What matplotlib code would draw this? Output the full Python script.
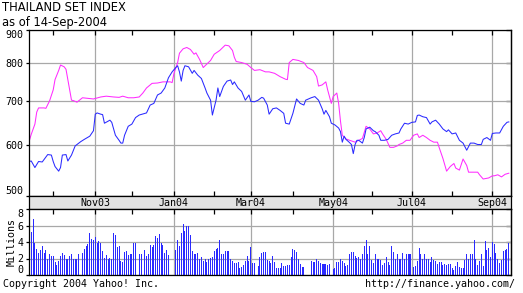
"""Thailand SET index, one-year chart with volume panel (Yahoo style)."""

import numpy as np
import matplotlib

matplotlib.use("Agg")
import matplotlib.pyplot as plt
from matplotlib.ticker import FixedLocator, FuncFormatter, NullLocator
from matplotlib.transforms import blended_transform_factory

START = "2003-09-12"  # first trading day shown

# SET index (blue)
set_dates = [
    "2003-09-12", "2003-09-15", "2003-09-17", "2003-09-19", "2003-09-23", "2003-09-25",
    "2003-09-26", "2003-09-30", "2003-10-01", "2003-10-02", "2003-10-06", "2003-10-07",
    "2003-10-08", "2003-10-10", "2003-10-13", "2003-10-15", "2003-10-17", "2003-10-22",
    "2003-10-24", "2003-10-29", "2003-10-31", "2003-11-03", "2003-11-04", "2003-11-06",
    "2003-11-07", "2003-11-10", "2003-11-13", "2003-11-14", "2003-11-18", "2003-11-20",
    "2003-11-21", "2003-11-24", "2003-11-25", "2003-11-27", "2003-12-01", "2003-12-03",
    "2003-12-05", "2003-12-11", "2003-12-15", "2003-12-17", "2003-12-19", "2003-12-23",
    "2003-12-25", "2003-12-29", "2003-12-31", "2004-01-02", "2004-01-05", "2004-01-06",
    "2004-01-07", "2004-01-08", "2004-01-09", "2004-01-13", "2004-01-15", "2004-01-16",
    "2004-01-20", "2004-01-22", "2004-01-26", "2004-01-27", "2004-01-29", "2004-01-30",
    "2004-02-03", "2004-02-04", "2004-02-05", "2004-02-09", "2004-02-11", "2004-02-13",
    "2004-02-16", "2004-02-17", "2004-02-19", "2004-02-23", "2004-02-25", "2004-02-27",
    "2004-03-01", "2004-03-03", "2004-03-05", "2004-03-09", "2004-03-10", "2004-03-12",
    "2004-03-15", "2004-03-17", "2004-03-19", "2004-03-23", "2004-03-25", "2004-03-26",
    "2004-03-30", "2004-04-01", "2004-04-05", "2004-04-07", "2004-04-09", "2004-04-12",
    "2004-04-15", "2004-04-19", "2004-04-21", "2004-04-23", "2004-04-26", "2004-04-27",
    "2004-04-29", "2004-04-30", "2004-05-04", "2004-05-06", "2004-05-07", "2004-05-10",
    "2004-05-11", "2004-05-12", "2004-05-14", "2004-05-17", "2004-05-18", "2004-05-19",
    "2004-05-20", "2004-05-21", "2004-05-25", "2004-05-26", "2004-05-27", "2004-05-31",
    "2004-06-02", "2004-06-03", "2004-06-07", "2004-06-08", "2004-06-10", "2004-06-14",
    "2004-06-16", "2004-06-18", "2004-06-22", "2004-06-23", "2004-06-25", "2004-06-29",
    "2004-07-01", "2004-07-05", "2004-07-06", "2004-07-07", "2004-07-09", "2004-07-13",
    "2004-07-15", "2004-07-16", "2004-07-20", "2004-07-22", "2004-07-26", "2004-07-28",
    "2004-07-29", "2004-08-02", "2004-08-04", "2004-08-06", "2004-08-10", "2004-08-12",
    "2004-08-16", "2004-08-18", "2004-08-20", "2004-08-24", "2004-08-25", "2004-08-27",
    "2004-08-31", "2004-09-01", "2004-09-03", "2004-09-07", "2004-09-09", "2004-09-13",
    "2004-09-14",
]
set_close = [
    565, 566, 553, 565, 564, 574, 579, 578, 565, 555,
    546, 553, 578, 579, 566, 578, 597, 606, 611, 618,
    630, 668, 671, 668, 667, 647, 654, 649, 620, 609,
    603, 603, 620, 640, 645, 660, 666, 671, 690, 694,
    715, 720, 733, 760, 776, 788, 793, 776, 751, 780,
    793, 790, 772, 780, 767, 758, 733, 720, 702, 666,
    702, 733, 711, 737, 751, 754, 742, 749, 733, 724,
    702, 715, 699, 698, 702, 709, 707, 690, 668, 681,
    683, 677, 670, 647, 645, 670, 705, 694, 690, 702,
    708, 711, 702, 681, 668, 677, 662, 647, 643, 636,
    628, 605, 618, 611, 604, 600, 581, 600, 609, 609,
    603, 615, 634, 638, 630, 628, 620, 609, 609, 611,
    620, 623, 625, 634, 647, 645, 649, 650, 665, 666,
    662, 660, 645, 650, 654, 645, 634, 628, 632, 623,
    625, 609, 603, 588, 603, 603, 600, 600, 611, 615,
    609, 624, 625, 625, 640, 649, 650,
]

# comparison series (magenta)
cmp_dates = [
    "2003-09-12", "2003-09-15", "2003-09-17", "2003-09-18", "2003-09-19", "2003-09-24",
    "2003-09-25", "2003-09-29", "2003-10-01", "2003-10-02", "2003-10-06", "2003-10-07",
    "2003-10-09", "2003-10-10", "2003-10-13", "2003-10-15", "2003-10-16", "2003-10-20",
    "2003-10-23", "2003-10-27", "2003-10-31", "2003-11-06", "2003-11-11", "2003-11-17",
    "2003-11-20", "2003-11-24", "2003-11-27", "2003-12-02", "2003-12-05", "2003-12-09",
    "2003-12-11", "2003-12-16", "2003-12-19", "2003-12-24", "2003-12-30", "2003-12-31",
    "2004-01-01", "2004-01-05", "2004-01-06", "2004-01-08", "2004-01-12", "2004-01-14",
    "2004-01-16", "2004-01-19", "2004-01-21", "2004-01-23", "2004-01-27", "2004-01-29",
    "2004-02-02", "2004-02-05", "2004-02-10", "2004-02-12", "2004-02-16", "2004-02-17",
    "2004-02-18", "2004-02-23", "2004-02-26", "2004-03-01", "2004-03-03", "2004-03-08",
    "2004-03-11", "2004-03-15", "2004-03-18", "2004-03-23", "2004-03-26", "2004-03-29",
    "2004-03-30", "2004-04-01", "2004-04-06", "2004-04-09", "2004-04-13", "2004-04-16",
    "2004-04-20", "2004-04-21", "2004-04-23", "2004-04-27", "2004-04-28", "2004-04-30",
    "2004-05-03", "2004-05-05", "2004-05-06", "2004-05-07", "2004-05-10", "2004-05-12",
    "2004-05-14", "2004-05-19", "2004-05-21", "2004-05-25", "2004-05-27", "2004-05-31",
    "2004-06-02", "2004-06-04", "2004-06-08", "2004-06-09", "2004-06-11", "2004-06-15",
    "2004-06-17", "2004-06-21", "2004-06-22", "2004-06-24", "2004-06-28", "2004-06-30",
    "2004-07-02", "2004-07-06", "2004-07-07", "2004-07-09", "2004-07-13", "2004-07-15",
    "2004-07-19", "2004-07-21", "2004-07-22", "2004-07-26", "2004-07-28", "2004-07-30",
    "2004-08-03", "2004-08-04", "2004-08-06", "2004-08-10", "2004-08-12", "2004-08-13",
    "2004-08-18", "2004-08-20", "2004-08-23", "2004-08-25", "2004-08-30", "2004-09-01",
    "2004-09-02", "2004-09-06", "2004-09-08", "2004-09-10", "2004-09-14",
]
cmp_close = [
    609, 622, 645, 673, 683, 683, 682, 700, 728, 755, 780, 795,
    790, 783, 755, 702, 701, 697, 708, 707, 705, 710, 712, 710,
    709, 712, 708, 708, 710, 720, 733, 745, 746, 749, 749, 747,
    772, 802, 829, 842, 846, 840, 826, 830, 811, 788, 798, 808,
    826, 837, 853, 851, 837, 817, 805, 802, 797, 788, 780, 782,
    776, 776, 772, 763, 756, 755, 802, 811, 808, 802, 788, 780,
    763, 738, 741, 749, 728, 694, 711, 720, 694, 652, 620, 612,
    609, 605, 609, 613, 640, 634, 623, 625, 630, 623, 611, 594,
    594, 597, 600, 603, 609, 609, 620, 623, 615, 620, 615, 609,
    605, 605, 593, 571, 546, 555, 561, 552, 548, 570, 557, 544,
    544, 544, 539, 531, 533, 537, 537, 539, 535, 540, 542,
]

# daily volume in millions, one per business day from START (0 = no trading)
volume = [
    5.3, 5.2, 6.8, 3.9, 3.1, 2.7, 3.0, 3.5, 2.7, 3.0,
    2.0, 2.6, 2.3, 2.3, 1.6, 1.2, 1.7, 2.3, 2.7, 2.4,
    2.0, 1.9, 2.3, 2.5, 1.9, 1.9, 1.9, 2.5, 0, 2.7,
    3.1, 3.5, 3.8, 5.1, 4.4, 4.2, 4.6, 3.9, 4.1, 3.9,
    2.9, 2.1, 2.4, 2.0, 2.1, 1.9, 5.1, 4.8, 3.4, 3.5,
    1.7, 1.6, 2.8, 2.9, 2.4, 2.5, 2.6, 3.9, 3.9, 0,
    2.6, 2.6, 0, 3.0, 2.3, 2.6, 3.6, 3.4, 3.6, 4.7,
    4.5, 5.0, 3.9, 3.6, 2.7, 3.0, 2.4, 0, 0, 0,
    3.0, 4.2, 3.5, 5.1, 6.2, 5.3, 5.9, 6.0, 4.8, 2.9,
    2.5, 2.5, 2.7, 2.0, 2.2, 1.7, 2.0, 1.6, 1.9, 2.1,
    2.2, 2.9, 3.2, 3.3, 4.3, 2.5, 2.6, 2.9, 2.9, 2.9,
    2.0, 1.7, 1.5, 1.5, 1.6, 0.9, 1.0, 1.2, 1.7, 2.3,
    1.7, 3.4, 1.5, 1.5, 0, 1.1, 2.2, 2.7, 2.8, 2.8,
    1.8, 1.7, 1.5, 2.3, 1.6, 0.9, 0.9, 0.9, 1.5, 1.1,
    1.1, 1.2, 1.2, 2.2, 3.1, 3.0, 2.8, 2.0, 1.3, 1.0,
    1.0, 0, 0, 0, 1.7, 1.6, 1.6, 1.9, 1.7, 1.4,
    1.3, 1.3, 1.3, 1.2, 1.3, 0, 0.7, 0.9, 1.6, 1.6,
    2.0, 1.7, 1.5, 1.1, 1.2, 2.5, 2.8, 2.8, 2.3, 2.1,
    2.2, 2.0, 2.5, 3.5, 4.3, 2.6, 3.5, 1.8, 1.5, 2.6,
    2.0, 2.0, 1.8, 1.2, 1.5, 2.2, 1.6, 1.2, 3.5, 2.8,
    1.9, 2.5, 1.9, 1.9, 2.7, 1.9, 2.6, 2.6, 2.5, 0,
    1.0, 1.1, 1.7, 3.3, 2.5, 2.0, 2.5, 1.9, 2.0, 1.6,
    2.2, 1.8, 1.7, 1.3, 1.6, 1.6, 1.2, 1.3, 1.2, 1.3,
    1.3, 0.9, 0.6, 1.1, 1.6, 1.0, 0.9, 0.9, 1.8, 2.5,
    1.9, 2.6, 2.6, 4.3, 1.9, 1.2, 1.7, 2.6, 1.1, 4.1,
    3.0, 3.3, 2.2, 4.0, 3.7, 2.7, 2.0, 1.5, 1.8, 2.9,
    3.0, 3.2, 3.9,
]

month_labels = ["Nov03", "Jan04", "Mar04", "May04", "Jul04", "Sep04"]
month_major = ["2003-11-03", "2004-01-01", "2004-03-01", "2004-05-03", "2004-07-01", "2004-09-01"]
month_minor = ["2003-10-01", "2003-12-01", "2004-02-02", "2004-04-01", "2004-06-01", "2004-08-02"]
price_ticks = [500, 600, 700, 800, 900]
vol_ticks = [0, 2, 4, 6, 8]

W, H = 523, 293
BLUE = "#2a2aff"
PINK = "#ff2cff"
GRID = "#a8a8a8"
MONO = "DejaVu Sans Mono"


def bday(dates):
    # position on the trading-day axis
    return np.busday_count(START, np.array(dates, dtype="datetime64[D]"))


def rect(left, top, right, bottom):
    return [left / W, 1 - bottom / H, (right - left) / W, (bottom - top) / H]


def frame(ax):
    for s in ax.spines.values():
        s.set_linewidth(0.9)
        s.set_color("black")


def tuck_end_labels(axis):
    # keep the first/last tick label inside the panel, as the original does
    ticks = axis.get_major_ticks()
    ticks[0].label1.set_verticalalignment("bottom")
    ticks[-1].label1.set_verticalalignment("top")


plt.rcParams["font.family"] = MONO
fig = plt.figure(figsize=(W / 100, H / 100), dpi=100)

major_x = bday(month_major)
minor_x = bday(month_minor)
xlim = (-0.5, 263.2)

# --- price panel ---
ax = fig.add_axes(rect(28.5, 30, 511, 196))
ax.plot(bday(cmp_dates), cmp_close, color=PINK, lw=0.75)
ax.plot(bday(set_dates), set_close, color=BLUE, lw=0.75)
ax.set_yscale("log")
ax.set_ylim(500, 900)
ax.set_xlim(*xlim)
ax.yaxis.set_major_locator(FixedLocator(price_ticks))
ax.yaxis.set_major_formatter(FuncFormatter(lambda v, p: f"{v:.0f}"))
ax.yaxis.set_minor_locator(NullLocator())
ax.xaxis.set_major_locator(FixedLocator(major_x))
ax.xaxis.set_minor_locator(FixedLocator(minor_x))
ax.grid(True, which="major", color=GRID, lw=0.9)
ax.tick_params(axis="x", which="both", direction="in", top=True, bottom=True,
               labelbottom=False, length=3.5, width=0.9, color="black")
ax.tick_params(axis="y", direction="out", length=2.5, width=0.9, pad=1, labelsize=7.2)
tuck_end_labels(ax.yaxis)
sec = ax.secondary_yaxis("right")
sec.yaxis.set_major_locator(FixedLocator(price_ticks))
sec.yaxis.set_minor_locator(NullLocator())
sec.tick_params(direction="in", length=3.5, width=0.9, labelright=False)
sec.spines["right"].set_linewidth(0.9)
frame(ax)

# --- month label band ---
band = fig.add_axes(rect(28.5, 196, 511, 209))
band.set_facecolor("#e3e3e3")
band.set_xlim(*xlim)
band.set_xticks([])
band.set_yticks([])
frame(band)
tr = blended_transform_factory(band.transData, band.transAxes)
for xm, lab in zip(major_x, month_labels):
    band.text(xm, 0.45, lab, transform=tr, ha="center", va="center", fontsize=7.2)

# --- volume panel ---
vx = np.arange(len(volume))
vol = fig.add_axes(rect(28.5, 209, 511, 275))
vol.bar(vx, volume, width=0.55, color=BLUE, linewidth=0, antialiased=False)
vol.set_xlim(*xlim)
vol.set_ylim(0, 8)
vol.set_yticks(vol_ticks)
vol.xaxis.set_major_locator(FixedLocator(major_x))
vol.xaxis.set_minor_locator(FixedLocator(minor_x))
vol.grid(True, which="major", color=GRID, lw=0.9)
vol.set_axisbelow(True)
vol.tick_params(axis="x", which="both", direction="in", top=True, bottom=False,
                labelbottom=False, length=3.5, width=0.9)
vol.tick_params(axis="y", direction="out", length=2.5, width=0.9, pad=1, labelsize=7.2)
tuck_end_labels(vol.yaxis)
vsec = vol.secondary_yaxis("right")
vsec.set_yticks(vol_ticks)
vsec.tick_params(direction="in", length=3.5, width=0.9, labelright=False)
vsec.spines["right"].set_linewidth(0.9)
frame(vol)

fig.text(12 / W, 1 - 242 / H, "Millions", rotation=90, ha="center", va="center",
         fontsize=7.2)

# --- header / footer text ---
fig.text(2 / W, 1 - 1 / H, "THAILAND SET INDEX", ha="left", va="top",
         fontsize=8.3, family="DejaVu Sans")
fig.text(2 / W, 1 - 16 / H, "as of 14-Sep-2004", ha="left", va="top",
         fontsize=8.3, family="DejaVu Sans")
fig.text(3 / W, 1 - 284 / H, "Copyright 2004 Yahoo! Inc.", ha="left", va="center",
         fontsize=7.2)
fig.text(515 / W, 1 - 284 / H, "http://finance.yahoo.com/", ha="right", va="center",
         fontsize=7.2)

fig.savefig("out.png", dpi=100)
